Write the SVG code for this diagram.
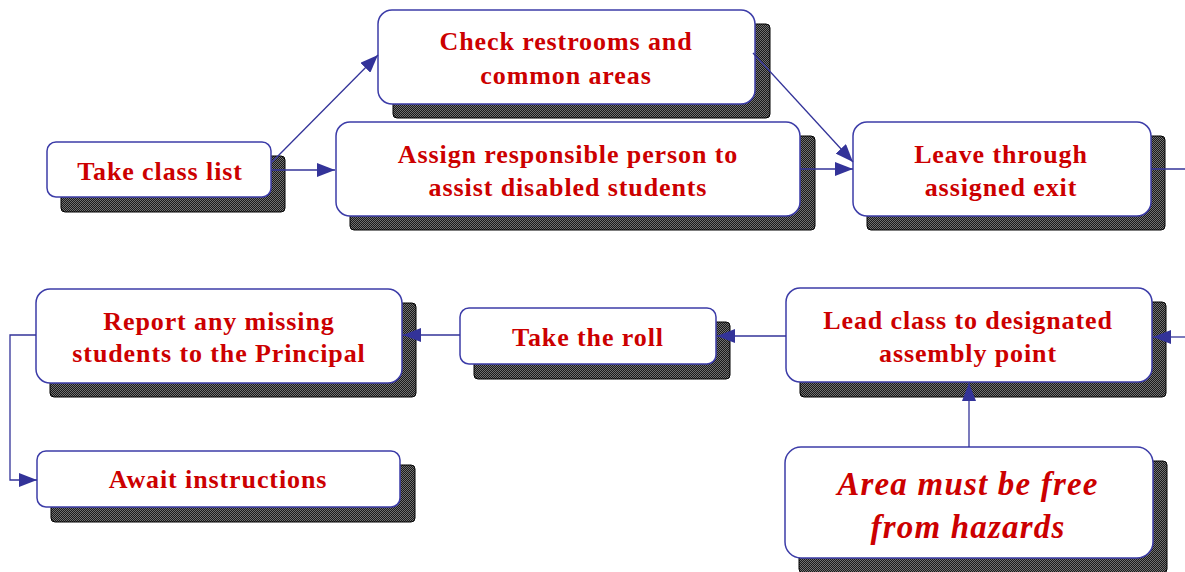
<svg xmlns="http://www.w3.org/2000/svg" width="1185" height="572" viewBox="0 0 1185 572">
<defs>
<pattern id="dither" width="2" height="2" patternUnits="userSpaceOnUse">
<rect width="2" height="2" fill="#1a1a1a"/>
<rect width="1" height="1" fill="#707070"/>
<rect x="1" y="1" width="1" height="1" fill="#707070"/>
</pattern>
<marker id="ah" markerWidth="18" markerHeight="14" refX="18" refY="7" orient="auto" markerUnits="userSpaceOnUse">
<path d="M0,0 L18,7 L0,14 Z" fill="#333399"/>
</marker>
</defs>
<style>
.sh{fill:url(#dither);stroke:#000;stroke-width:1}
.bx{fill:#fff;stroke:#3c3ca8;stroke-width:1.5}
.t{font-family:"Liberation Serif","Times New Roman",serif;font-weight:bold;font-size:26px;fill:#cc0000;text-anchor:middle;letter-spacing:0.9px}
.it{font-family:"Liberation Serif","Times New Roman",serif;font-weight:bold;font-style:italic;font-size:33px;fill:#cc0000;text-anchor:middle;letter-spacing:1.2px}
.c{fill:none;stroke:#333399;stroke-width:1.3}
</style>
<rect width="1185" height="572" fill="#fff"/>
<g id="n-take-class-list">
<rect class="sh" x="61" y="156" width="224" height="56" rx="4"/>
<rect class="bx" x="47" y="142" width="224" height="55" rx="9"/>
<text class="t" x="160" y="180">Take class list</text>
</g>
<g id="n-check-restrooms">
<rect class="sh" x="393" y="24" width="377" height="94" rx="4"/>
<rect class="bx" x="378" y="10" width="377" height="94" rx="14"/>
<text class="t" x="566" y="50">Check restrooms and</text>
<text class="t" x="566" y="84">common areas</text>
</g>
<g id="n-assign">
<rect class="sh" x="350" y="136" width="465" height="94" rx="4"/>
<rect class="bx" x="336" y="122" width="464" height="94" rx="14"/>
<text class="t" x="568" y="163">Assign responsible person to</text>
<text class="t" x="568" y="196">assist disabled students</text>
</g>
<g id="n-leave">
<rect class="sh" x="867" y="136" width="298" height="94" rx="4"/>
<rect class="bx" x="853" y="122" width="298" height="94" rx="14"/>
<text class="t" x="1001" y="163">Leave through</text>
<text class="t" x="1001" y="196">assigned exit</text>
</g>
<g id="n-lead">
<rect class="sh" x="800" y="302" width="366" height="95" rx="4"/>
<rect class="bx" x="786" y="288" width="366" height="94" rx="14"/>
<text class="t" x="968" y="329">Lead class to designated</text>
<text class="t" x="968" y="362">assembly point</text>
</g>
<g id="n-area">
<rect class="sh" x="799" y="461" width="368" height="112" rx="4"/>
<rect class="bx" x="785" y="447" width="368" height="111" rx="16"/>
<text class="it" x="968" y="495">Area must be free</text>
<text class="it" x="968" y="538">from hazards</text>
</g>
<g id="n-roll">
<rect class="sh" x="474" y="322" width="256" height="57" rx="4"/>
<rect class="bx" x="460" y="308" width="256" height="56" rx="9"/>
<text class="t" x="588" y="346">Take the roll</text>
</g>
<g id="n-report">
<rect class="sh" x="50" y="303" width="366" height="94" rx="4"/>
<rect class="bx" x="36" y="289" width="366" height="94" rx="14"/>
<text class="t" x="219" y="330">Report any missing</text>
<text class="t" x="219" y="362">students to the Principal</text>
</g>
<g id="n-await">
<rect class="sh" x="51" y="465" width="364" height="57" rx="4"/>
<rect class="bx" x="37" y="451" width="363" height="56" rx="9"/>
<text class="t" x="218" y="488">Await instructions</text>
</g>
<g id="connectors">
<line class="c" x1="272" y1="162" x2="378" y2="55" marker-end="url(#ah)"/>
<line class="c" x1="272" y1="170" x2="335" y2="170" marker-end="url(#ah)"/>
<line class="c" x1="753" y1="53" x2="853" y2="162" marker-end="url(#ah)"/>
<line class="c" x1="800" y1="169" x2="853" y2="169" marker-end="url(#ah)"/>
<line class="c" x1="1151" y1="169" x2="1185" y2="169"/>
<line class="c" x1="1185" y1="337" x2="1153" y2="337" marker-end="url(#ah)"/>
<line class="c" x1="786" y1="336" x2="717" y2="336" marker-end="url(#ah)"/>
<line class="c" x1="460" y1="335" x2="403" y2="335" marker-end="url(#ah)"/>
<line class="c" x1="969" y1="447" x2="969" y2="383" marker-end="url(#ah)"/>
<polyline class="c" points="36,335 10,335 10,480 37,480" marker-end="url(#ah)"/>
</g>
</svg>
